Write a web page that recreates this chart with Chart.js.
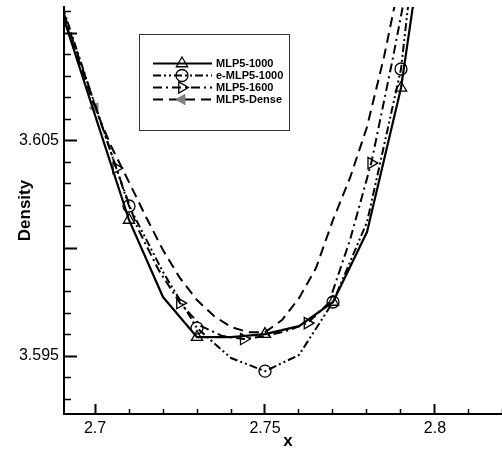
<!DOCTYPE html>
<html>
<head>
<meta charset="utf-8">
<script src="https://cdn.jsdelivr.net/npm/chart.js@4.4.1/dist/chart.umd.min.js"></script>
<style>
  html, body { margin: 0; padding: 0; background: #fff; overflow: hidden; }
  #wrap { width: 502px; height: 454px; overflow: hidden; }
  canvas { display: block; }
</style>
</head>
<body>
<div id="wrap"><canvas id="chart" width="512" height="454"></canvas></div>
<script>
// grid of the 1000-cell runs
const xCoarse = [2.69, 2.70, 2.71, 2.72, 2.73, 2.74, 2.75, 2.76, 2.77, 2.78, 2.79, 2.80];
const mlp5_1000  = [3.61107, 3.60619, 3.60132, 3.59774, 3.59588, 3.59588, 3.59602, 3.59639, 3.59751, 3.60076, 3.60745, 3.61827];
const emlp5_1000 = [3.61144, 3.60666, 3.60197, 3.59890, 3.59630, 3.59491, 3.59430, 3.59505, 3.59751, 3.60122, 3.60833, 3.62236];

// 1600-cell run
const xFine = [2.6875, 2.69375, 2.7, 2.70625, 2.7125, 2.71875, 2.725, 2.73125, 2.7375,
               2.74375, 2.75, 2.75625, 2.7625, 2.76875, 2.775, 2.78125, 2.7875, 2.79375];
const mlp5_1600 = [3.61251, 3.60954, 3.60666, 3.60373, 3.60095, 3.59899, 3.59746, 3.59639, 3.59593,
                   3.59579, 3.59593, 3.59616, 3.59653, 3.59746, 3.60039, 3.60396, 3.60875, 3.61386];

// reference (dense) run
const xDense = [2.690, 2.695, 2.700, 2.705, 2.710, 2.715, 2.720, 2.725, 2.730, 2.735, 2.740,
                2.745, 2.750, 2.755, 2.760, 2.765, 2.770, 2.775, 2.780, 2.785, 2.790];
const mlp5Dense = [3.61107, 3.60884, 3.60652, 3.60466, 3.60308, 3.60146, 3.59992, 3.59862, 3.59760, 3.59686, 3.59635,
                   3.59611, 3.59611, 3.59667, 3.59769, 3.59909, 3.60132, 3.60327, 3.60564, 3.60889, 3.61270];

const seriesNames = ['MLP5-1000', 'e-MLP5-1000', 'MLP5-1600', 'MLP5-Dense'];

const xTicks = [2.70, 2.71, 2.72, 2.73, 2.74, 2.75, 2.76, 2.77, 2.78, 2.79, 2.80, 2.81, 2.82];
const yTicks = [3.593, 3.594, 3.595, 3.596, 3.597, 3.598, 3.599, 3.600, 3.601, 3.602,
                3.603, 3.604, 3.605, 3.606, 3.607, 3.608, 3.609, 3.610, 3.611];
const xTickLabels = ['2.7', '2.75', '2.8'];
const yTickLabels = ['3.595', '3.605'];
const xTitle = 'x';
const yTitle = 'Density';

const FONT = '"Liberation Sans", Arial, sans-serif';
Chart.defaults.font.family = FONT;
Chart.defaults.color = '#000';

function labelFor(v, labels) {
  const s = labels.find(l => Math.abs(parseFloat(l) - v) < 1e-7);
  return s || '';
}
function isMultiple(v, step) {
  const r = v / step;
  return Math.abs(r - Math.round(r)) < 1e-6;
}
function pts(xs, ys) {
  return xs.map((x, i) => ({ x: x, y: ys[i] }));
}
// marker on every n-th point, starting from index `start`
function every(n, start, r) {
  return c => (c.dataIndex >= start && (c.dataIndex - start) % n === 0) ? r : 0;
}
function tickVal(c) {
  return c.tick ? c.tick.value : 0;
}

// boxed legend with line sample + symbol
const legendBox = {
  id: 'legendBox',
  afterDraw(chart) {
    const g = chart.ctx;
    g.save();
    g.fillStyle = '#fff';
    g.fillRect(139.5, 34.5, 150, 96);
    g.strokeStyle = '#333';
    g.lineWidth = 1;
    g.strokeRect(139.5, 34.5, 150, 96);
    chart.data.datasets.forEach((ds, i) => {
      const yy = 63.5 + i * 12;
      g.strokeStyle = ds.borderColor;
      g.lineWidth = ds.borderWidth;
      g.setLineDash(ds.borderDash);
      g.beginPath();
      g.moveTo(153, yy);
      g.lineTo(212, yy);
      g.stroke();
      g.setLineDash([]);
      g.fillStyle = ds.pointBackgroundColor;
      g.strokeStyle = ds.pointBorderColor;
      g.lineWidth = ds.pointBorderWidth;
      Chart.helpers.drawPoint(g, {
        pointStyle: ds.pointStyle, rotation: ds.pointRotation,
        radius: ds.markerSize, borderWidth: ds.pointBorderWidth
      }, 182, yy);
      g.fillStyle = '#000';
      g.font = 'bold 11px ' + FONT;
      g.textBaseline = 'middle';
      g.fillText(ds.label, 216, yy + 0.5);
    });
    g.restore();
  }
};

const hollow = 'rgba(0,0,0,0)';

new Chart(document.getElementById('chart'), {
  type: 'line',
  data: {
    datasets: [
      {
        label: seriesNames[0], data: pts(xCoarse, mlp5_1000),
        borderColor: '#000', borderWidth: 2.2, borderDash: [],
        pointStyle: 'triangle', pointRotation: 0, markerSize: 6.5,
        pointRadius: every(2, 2, 6.5), pointBorderWidth: 1.3,
        pointBorderColor: '#000', pointBackgroundColor: hollow
      },
      {
        label: seriesNames[1], data: pts(xCoarse, emlp5_1000),
        borderColor: '#000', borderWidth: 2, borderDash: [8, 3, 2, 3, 2, 3],
        pointStyle: 'circle', pointRotation: 0, markerSize: 6,
        pointRadius: every(2, 2, 6), pointBorderWidth: 1.3,
        pointBorderColor: '#000', pointBackgroundColor: hollow
      },
      {
        label: seriesNames[2], data: pts(xFine, mlp5_1600),
        borderColor: '#000', borderWidth: 2, borderDash: [9, 4, 2, 4],
        pointStyle: 'triangle', pointRotation: 90, markerSize: 6.5,
        pointRadius: every(3, 3, 6.5), pointBorderWidth: 1.3,
        pointBorderColor: '#000', pointBackgroundColor: hollow
      },
      {
        label: seriesNames[3], data: pts(xDense, mlp5Dense),
        borderColor: '#000', borderWidth: 2, borderDash: [10, 6],
        pointStyle: 'triangle', pointRotation: -90, markerSize: 6,
        pointRadius: every(40, 2, 6), pointBorderWidth: 1,
        pointBorderColor: '#808080', pointBackgroundColor: '#808080'
      }
    ]
  },
  options: {
    responsive: false,
    devicePixelRatio: 1,
    animation: false,
    events: [],
    layout: { padding: { top: 7, right: 0, left: 0, bottom: 0 } },
    elements: { line: { tension: 0 } },
    plugins: { legend: { display: false }, tooltip: { enabled: false } },
    scales: {
      x: {
        type: 'linear', min: 2.69088, max: 2.82265,
        afterBuildTicks: s => { s.ticks = xTicks.map(v => ({ value: v })); },
        afterFit: s => { s.height = 40; s.paddingLeft = 0; s.paddingRight = 0; },
        // negative tick length -> ticks point into the plot
        grid: {
          display: true, drawOnChartArea: false, drawTicks: true,
          tickLength: -10, tickColor: '#000',
          tickWidth: c => isMultiple(tickVal(c), 0.05) ? 2 : 1.5,
          tickBorderDash: c => isMultiple(tickVal(c), 0.05) ? [] : [6, 100]
        },
        border: { display: true, color: '#000', width: 2 },
        ticks: {
          autoSkip: false, maxRotation: 0, padding: 15,
          font: { size: 16 },
          callback: v => labelFor(v, xTickLabels)
        },
        title: { display: true, text: xTitle, font: { size: 17, weight: 'bold' }, padding: { top: 0, bottom: 2 } }
      },
      y: {
        type: 'linear', min: 3.59231, max: 3.61121,
        afterBuildTicks: s => { s.ticks = yTicks.map(v => ({ value: v })); },
        afterFit: s => { s.width = 64; s.paddingTop = 0; s.paddingBottom = 0; },
        grid: {
          display: true, drawOnChartArea: false, drawTicks: true,
          tickLength: -13, tickColor: '#000',
          tickWidth: c => isMultiple(tickVal(c), 0.005) ? 2 : 1.5,
          tickBorderDash: c => isMultiple(tickVal(c), 0.005) ? [] : [0, 6, 8, 100]
        },
        border: { display: true, color: '#000', width: 2 },
        ticks: {
          autoSkip: false, padding: 18,
          font: { size: 16 },
          callback: v => labelFor(v, yTickLabels)
        },
        title: { display: true, text: yTitle, font: { size: 17, weight: 'bold' }, padding: { top: 15, bottom: 0 } }
      }
    }
  },
  plugins: [legendBox]
});
</script>
</body>
</html>
